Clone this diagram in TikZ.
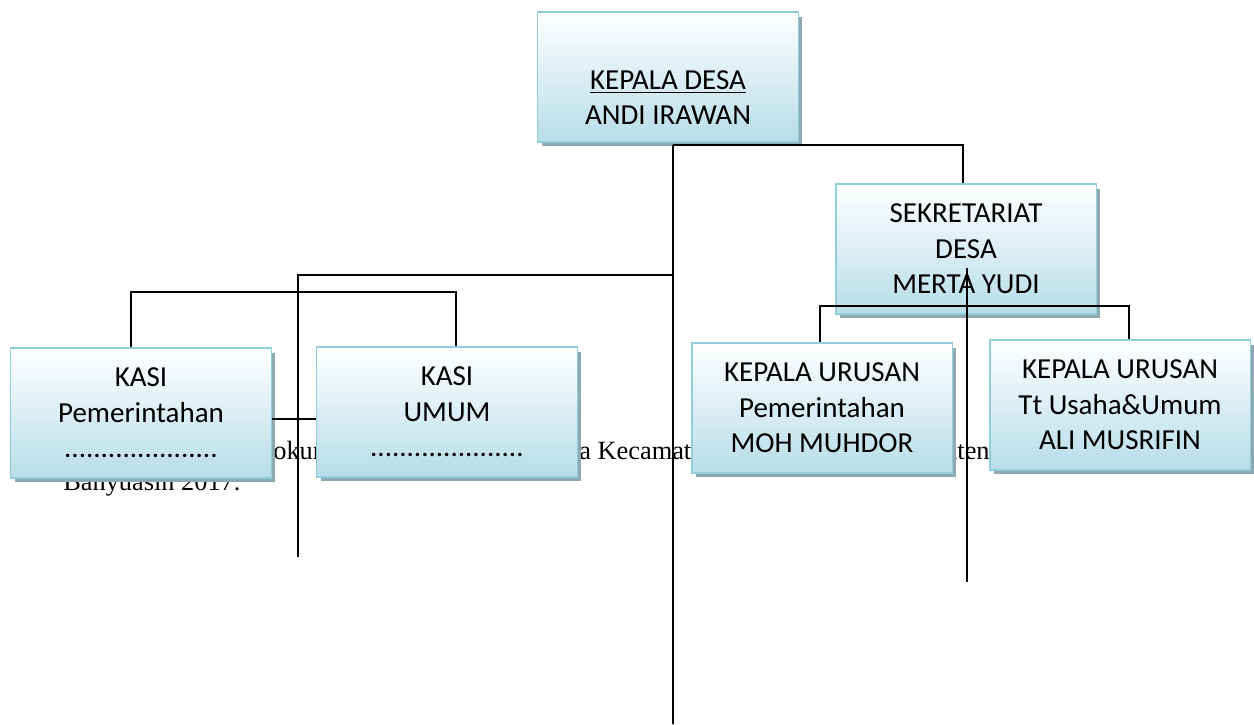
\documentclass[tikz,border=0pt]{standalone}
\usepackage{fontspec}
\setmainfont{Carlito}
\newfontfamily\bodyserif{Liberation Serif}
\usepackage{xcolor}
\usetikzlibrary{shadows}
\definecolor{boxedge}{RGB}{146,205,220}
\definecolor{boxfill}{RGB}{183,221,232}
\definecolor{boxshade}{RGB}{143,169,178}
\tikzset{
	orgbox/.style={draw=boxedge, line width=1.1pt, top color=white, middle color=boxfill!45, bottom color=boxfill,
		minimum width=5.22cm, minimum height=2.6cm, align=center, inner sep=0pt,
		font=\fontsize{16.5}{20.2}\selectfont,
		drop shadow={shadow xshift=0.08cm, shadow yshift=-0.09cm, fill=boxshade, opacity=1}},
	link/.style={line width=1.1pt, black},
	stray/.style={font=\bodyserif\fontsize{15}{18}\selectfont, inner sep=0pt}
}
\begin{document}
\begin{tikzpicture}[x=0.02cm, y=-0.02cm]
			\path[use as bounding box, fill=white] (0,0) rectangle (1254,724);
			\node[stray, anchor=base west] (txtdok) at (273,459) {okum};
			\node[stray, anchor=base west] (txtkec) at (579,459) {a Kecamatan};
			\node[stray, anchor=base east] (txtkab) at (990,459) {aten};
			\node[stray, anchor=base west] (txtbyu) at (63,490) {Banyuasin 2017.};
			\node[orgbox] (kades) at (668,77) {\strut\\\underline{KEPALA DESA}\\ANDI IRAWAN};
			\node[orgbox] (sekdes) at (966,249) {SEKRETARIAT\\DESA\\MERTA YUDI};
			\node[orgbox] (kasipem) at (141,413) {KASI\\Pemerintahan\\.....................};
			\node[orgbox] (kasium) at (447,412) {KASI\\UMUM\\.....................};
			\node[orgbox] (kaurpem) at (822,408) {KEPALA URUSAN\\Pemerintahan\\MOH MUHDOR};
			\node[orgbox] (kaurtu) at (1120,405) {KEPALA URUSAN\\Tt Usaha\&Umum\\ALI MUSRIFIN};
			\coordinate (trunktop) at ([xshift=0.1cm, yshift=-0.04cm]kades.south);
			\coordinate (trunkend) at (673,724);
			\coordinate (kasijoin) at (298,275);
			\coordinate (kasiend) at (298,557);
			\coordinate (sektop) at (967,268);
			\coordinate (sekend) at (967,582);
			\draw[link] (trunktop) -- (trunkend);
			\draw[link] (trunktop) -| ([xshift=-0.06cm]sekdes.north);
			\draw[link] (trunkend |- kasijoin) -- (kasijoin) -- (kasiend);
			\draw[link] ([xshift=-0.2cm]kasipem.north) -- ++(0,-55) -| ([xshift=0.18cm]kasium.north);
			\draw[link] ([yshift=-0.12cm]kasipem.east) -- ([yshift=-0.12cm]kasipem.east -| kasium.west);
			\draw[link] ([xshift=-0.04cm]kaurpem.north) -- ++(0,-36) -| ([xshift=0.18cm]kaurtu.north);
			\draw[link] (sektop) -- (sekend);
		\end{tikzpicture}
\end{document}
